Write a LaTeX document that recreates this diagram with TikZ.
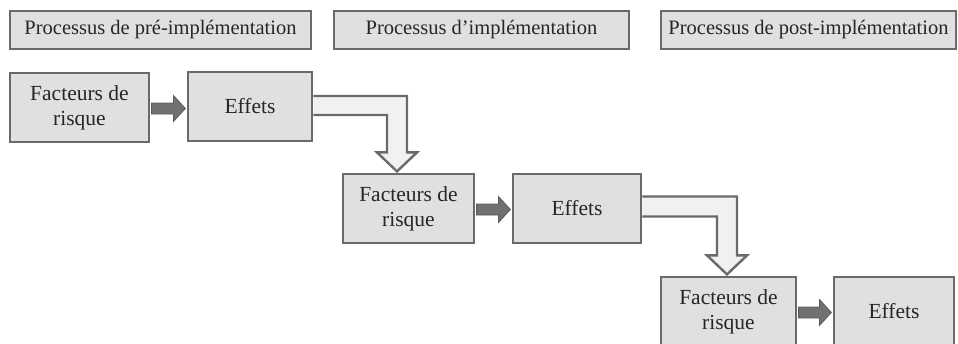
\documentclass[tikz,border=0pt]{standalone}
\usepackage{fontspec}
\setmainfont{Liberation Serif}
\usetikzlibrary{calc}
\definecolor{boxfill}{HTML}{E0E0E2}
\definecolor{boxline}{HTML}{6A6A6A}
\definecolor{lightarr}{HTML}{F1F1F4}
\definecolor{darkarr}{HTML}{717171}
\tikzset{
  hdr/.style={draw=boxline, fill=boxfill, line width=2.6pt, minimum height=38pt, inner sep=0pt, font=\fontsize{20.5}{24}\selectfont, text=black!85},
  box/.style={draw=boxline, fill=boxfill, line width=2.6pt, minimum height=69pt, inner sep=0pt, align=center, font=\fontsize{21.5}{25}\selectfont, text=black!85},
  bentarrow/.style={draw=boxline, fill=lightarr, line width=2.4pt, line join=miter},
  flatarrow/.style={draw=darkarr!80!black, fill=darkarr, line width=0.8pt, line join=miter}
}
\begin{document}
\begin{tikzpicture}[x=1pt,y=-1pt]
\useasboundingbox (0,0) rectangle (958,343);
% headers
\node[hdr, minimum width=301pt] (h1) at (160.5,30) {Processus de pré-implémentation};
\node[hdr, minimum width=295pt] (h2) at (481.5,30) {Processus d’implémentation};
\node[hdr, minimum width=295pt] (h3) at (808.5,30) {Processus de post-implémentation};
% row 1
\node[box, minimum width=139pt] (fr1) at (79.5,107.5) {Facteurs de\\risque};
\node[box, minimum width=124pt] (e1) at (250,106.5) {Effets};
% row 2
\node[box, minimum width=131pt] (fr2) at (408.5,208.5) {Facteurs de\\risque};
\node[box, minimum width=128pt] (e2) at (577,208.5) {Effets};
% row 3
\node[box, minimum width=135pt] (fr3) at (728.5,311.5) {Facteurs de\\risque};
\node[box, minimum width=120pt] (e3) at (894,311.5) {Effets};

% dark straight arrows
\foreach \s/\t in {fr1/e1, fr2/e2, fr3/e3}{
  \coordinate (s) at ($(\s.east)+(1.3,1)$);
  \coordinate (t) at ($(\t.west |- s)+(-1.3,0)$);
  \draw[flatarrow] ($(s)+(0,-5.5)$) -- ($(t)+(-12,-5.5)$) -- ($(t)+(-12,-13)$) -- (t)
    -- ($(t)+(-12,13)$) -- ($(t)+(-12,5.5)$) -- ($(s)+(0,5.5)$) -- cycle;
}

% light bent arrows
\coordinate (a1) at ($(e1.east)+(0,-1)$);
\coordinate (b1) at ($(fr2.north)+(-11.5,-1.3)$);
\coordinate (c1) at (b1 |- a1);
\draw[bentarrow] ($(a1)+(0,-9.5)$) -- ($(c1)+(10,-9.5)$) -- ($(b1)+(10,-19)$) -- ($(b1)+(20,-19)$)
  -- (b1) -- ($(b1)+(-20,-19)$) -- ($(b1)+(-10,-19)$) -- ($(c1)+(-10,9.5)$) -- ($(a1)+(0,9.5)$);

\coordinate (a2) at ($(e2.east)+(0,-2)$);
\coordinate (b2) at ($(fr3.north)+(-1.5,-1.3)$);
\coordinate (c2) at (b2 |- a2);
\draw[bentarrow] ($(a2)+(0,-10)$) -- ($(c2)+(10,-10)$) -- ($(b2)+(10,-19)$) -- ($(b2)+(20,-19)$)
  -- (b2) -- ($(b2)+(-20,-19)$) -- ($(b2)+(-10,-19)$) -- ($(c2)+(-10,10)$) -- ($(a2)+(0,10)$);
\end{tikzpicture}
\end{document}
